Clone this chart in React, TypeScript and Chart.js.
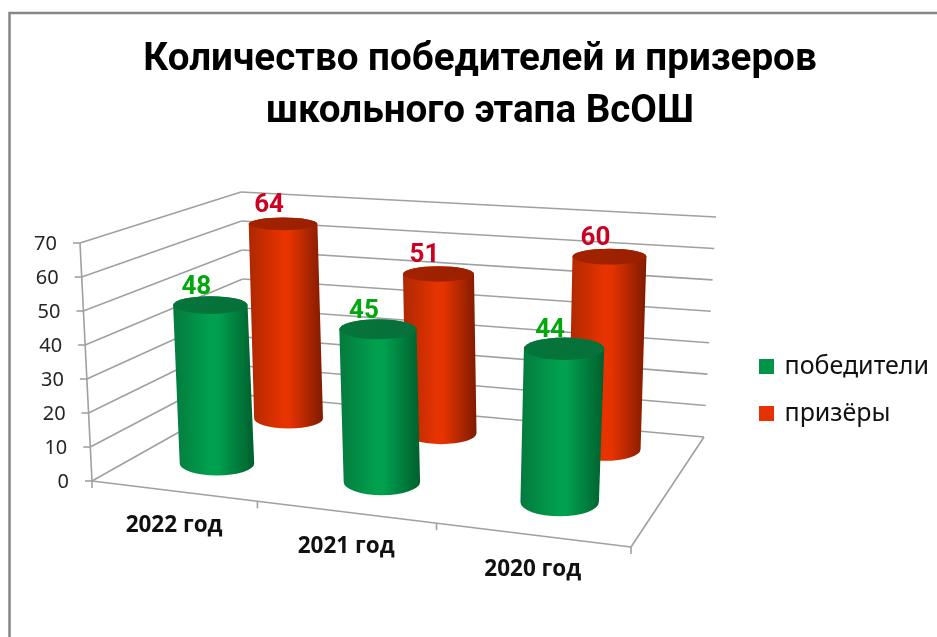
import { useEffect, useRef } from "react";
import { Chart, registerables } from "chart.js";

Chart.register(...registerables);

const titleLines = ["Количество победителей и призеров", "школьного этапа ВсОШ"];
const categories = ["2022 год", "2021 год", "2020 год"];
const winners = [48, 45, 44];
const prizewinners = [64, 51, 60];
const seriesNames = ["победители", "призёры"];
const legendColors = ["#00944a", "#e53200"];
const labelColors = ["#00a80e", "#cc0020"];
const valueMax = 70;
const valueStep = 10;

type P = [number, number];
// Perspective frame of the pseudo-3D plot: corners [front-left, front-right, back-right, back-left]
const floorQuad: P[] = [[92, 481], [631, 547], [704, 437], [245, 395]];
const ceilQuad: P[] = [[80, 243], [651, 289], [716, 217], [241, 192]];
const seriesDepth = [0.27, 0.78];
const radiusU = 0.074;
const radiusV = 0.125;
const uWarp = 0.033;

function homography(q: P[]) {
  const [[x0, y0], [x1, y1], [x2, y2], [x3, y3]] = q;
  const dx1 = x1 - x2, dx2 = x3 - x2, sx = x0 - x1 + x2 - x3;
  const dy1 = y1 - y2, dy2 = y3 - y2, sy = y0 - y1 + y2 - y3;
  const d = dx1 * dy2 - dx2 * dy1;
  const g = (sx * dy2 - dx2 * sy) / d;
  const h = (dx1 * sy - sx * dy1) / d;
  const a = x1 - x0 + g * x1, b = x3 - x0 + h * x3, c = x0;
  const e = y1 - y0 + g * y1, f = y3 - y0 + h * y3, k = y0;
  return (u: number, v: number): P => {
    const w = g * u + h * v + 1;
    return [(a * u + b * v + c) / w, (e * u + f * v + k) / w];
  };
}
const floorH = homography(floorQuad);
const ceilH = homography(ceilQuad);
function project(u0: number, v: number, t: number): P {
  const u = u0 + uWarp * u0 * (1 - u0);
  const b = floorH(u, v);
  const c = ceilH(u, v);
  return [b[0] + (c[0] - b[0]) * t, b[1] + (c[1] - b[1]) * t];
}

function line(ctx: CanvasRenderingContext2D, a: P, b: P) {
  ctx.beginPath();
  ctx.moveTo(a[0], a[1]);
  ctx.lineTo(b[0], b[1]);
  ctx.stroke();
}

const cylinderPalette = [
  { edgeL: "#047a3d", mid: "#00a04e", edgeR: "#005f2d", topA: "#05753a", topB: "#06703a" },
  { edgeL: "#ad2800", mid: "#e63300", edgeR: "#7f1b00", topA: "#a32200", topB: "#992000" },
];

const frame3d = {
  id: "frame3d",
  beforeDraw(chart: any) {
    const { ctx } = chart;
    ctx.save();
    ctx.fillStyle = "#ffffff";
    ctx.fillRect(0, 0, chart.width, chart.height);
    ctx.strokeStyle = "#868686";
    ctx.lineWidth = 2.5;
    ctx.beginPath();
    ctx.moveTo(9.5, chart.height);
    ctx.lineTo(9.5, 13);
    ctx.lineTo(chart.width, 13);
    ctx.stroke();
    ctx.restore();
  },
  beforeDatasetsDraw(chart: any) {
    const { ctx, scales } = chart;
    const area = chart.chartArea;
    const frac = (val: number) => (area.bottom - scales.y.getPixelForValue(val)) / area.height;
    ctx.save();
    ctx.strokeStyle = "#a0a0a0";
    ctx.lineWidth = 1.6;
    scales.y.ticks.forEach((tk: any) => {
      const t = frac(tk.value);
      const front = project(0, 0, t);
      const back = project(0, 1, t);
      const right = project(1, 1, t);
      line(ctx, front, back);
      line(ctx, back, right);
      line(ctx, [front[0] - 7, front[1]], front);
      ctx.fillStyle = "#262626";
      ctx.font = "20px 'Noto Sans'";
      ctx.textAlign = "right";
      ctx.textBaseline = "middle";
      ctx.fillText(String(tk.value), front[0] - 23, front[1] + 1);
    });
    line(ctx, project(0, 0, 0), project(0, 0, 1));
    line(ctx, project(0, 0, 0), project(1, 0, 0));
    line(ctx, project(1, 0, 0), project(1, 1, 0));
    const n = categories.length;
    for (let i = 0; i <= n; i++) {
      const p = project(i / n, 0, 0);
      line(ctx, p, [p[0], p[1] + 7]);
    }
    ctx.fillStyle = "#111111";
    ctx.font = "bold 22.5px 'Open Sans'";
    ctx.textAlign = "center";
    ctx.textBaseline = "middle";
    scales.x.getLabels().forEach((lab: string, i: number) => {
      const u = (scales.x.getPixelForValue(i) - area.left) / area.width;
      const p = project(u, 0, 0);
      ctx.fillText(lab, p[0] + 1, p[1] + 35);
    });
    ctx.restore();
  },
  beforeDatasetDraw(chart: any, args: any) {
    const { ctx } = chart;
    const area = chart.chartArea;
    const di = args.index;
    const meta = args.meta;
    const pal = cylinderPalette[di];
    const v = seriesDepth[di];
    const frontWidth = floorQuad[1][0] - floorQuad[0][0];
    const backWidth = floorQuad[2][0] - floorQuad[3][0];
    const affineWidth = frontWidth + (backWidth - frontWidth) * v;
    meta.data.forEach((el: any, i: number) => {
      const u = (el.x - area.left) / area.width;
      const t = (area.bottom - el.y) / area.height;
      const ellipse = (tt: number) => {
        const c = project(u, v, tt);
        const l = project(u - radiusU, v, tt);
        const r = project(u + radiusU, v, tt);
        const f = project(u, v - radiusV, tt);
        const b = project(u, v + radiusV, tt);
        const rx = 0.35 * (Math.abs(r[0] - l[0]) / 2) + 0.65 * affineWidth * radiusU;
        return { c, rx, ry: Math.abs(f[1] - b[1]) / 2 };
      };
      const bot = ellipse(0);
      const top = ellipse(t);
      const x0 = Math.min(top.c[0] - top.rx, bot.c[0] - bot.rx);
      const x1 = Math.max(top.c[0] + top.rx, bot.c[0] + bot.rx);
      const grad = ctx.createLinearGradient(x0, 0, x1, 0);
      grad.addColorStop(0, pal.edgeL);
      grad.addColorStop(0.45, pal.mid);
      grad.addColorStop(0.55, pal.mid);
      grad.addColorStop(1, pal.edgeR);
      ctx.save();
      ctx.fillStyle = grad;
      ctx.beginPath();
      ctx.moveTo(top.c[0] - top.rx, top.c[1]);
      ctx.lineTo(bot.c[0] - bot.rx, bot.c[1]);
      ctx.ellipse(bot.c[0], bot.c[1], bot.rx, bot.ry, 0, Math.PI, 0, true);
      ctx.lineTo(top.c[0] + top.rx, top.c[1]);
      ctx.ellipse(top.c[0], top.c[1], top.rx, top.ry, 0, 0, Math.PI, true);
      ctx.closePath();
      ctx.fill();
      const tg = ctx.createLinearGradient(top.c[0] - top.rx, 0, top.c[0] + top.rx, 0);
      tg.addColorStop(0, pal.topA);
      tg.addColorStop(1, pal.topB);
      ctx.fillStyle = tg;
      ctx.beginPath();
      ctx.ellipse(top.c[0], top.c[1], top.rx, top.ry, 0, 0, Math.PI * 2);
      ctx.fill();
      ctx.restore();
      ctx.save();
      ctx.fillStyle = labelColors[di];
      ctx.font = "bold 26px Roboto";
      ctx.textAlign = "center";
      ctx.textBaseline = "middle";
      const val = chart.data.datasets[di].data[i];
      ctx.fillText(String(val), top.c[0] - 14, top.c[1] - 18);
      ctx.restore();
    });
    return false;
  },
};

export default function App() {
  const ref = useRef<HTMLCanvasElement>(null);
  useEffect(() => {
    const chart = new Chart(ref.current!, {
      type: "bar",
      data: {
        labels: categories,
        datasets: [
          { label: seriesNames[0], data: winners, backgroundColor: legendColors[0], grouped: false },
          { label: seriesNames[1], data: prizewinners, backgroundColor: legendColors[1], grouped: false },
        ],
      } as any,
      options: {
        responsive: false,
        animation: false,
        layout: { padding: { left: 21, right: -2, top: 0, bottom: 37 } },
        scales: {
          x: { display: false },
          y: { display: false, min: 0, max: valueMax, ticks: { stepSize: valueStep } },
        },
        plugins: {
          title: {
            display: true,
            text: titleLines,
            color: "#000000",
            font: { family: "Roboto", weight: "bold", size: 38.6, lineHeight: 1.347 },
            padding: { top: 34, bottom: 42 },
          },
          legend: {
            position: "right",
            fullSize: false,
            labels: {
              color: "#111111",
              font: { family: "'Noto Sans'", size: 25 },
              usePointStyle: true,
              pointStyle: "rect",
              boxWidth: 11,
              boxHeight: 15,
              padding: 22,
            },
          },
          tooltip: { enabled: false },
        },
      } as any,
      plugins: [frame3d],
    });
    return () => chart.destroy();
  }, []);
  return (
    <canvas
      ref={ref}
      width={937}
      height={637}
      style={{ position: "fixed", left: 0, top: 0, display: "block" }}
    />
  );
}
